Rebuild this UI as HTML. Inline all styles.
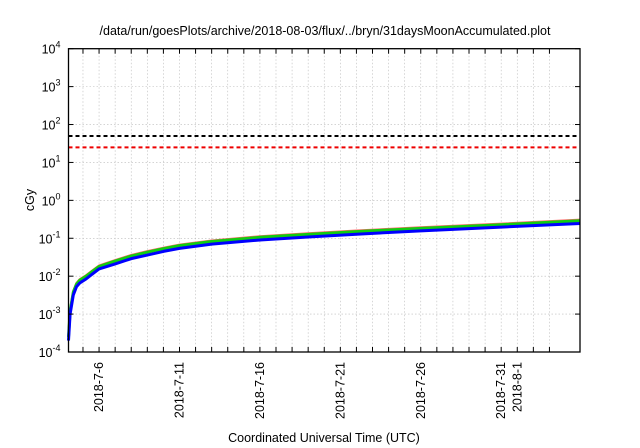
<!DOCTYPE html>
<html><head><meta charset="utf-8"><style>
body{margin:0;background:#fff}
svg{display:block;font-family:"Liberation Sans",sans-serif}
</style></head><body>
<svg id="chart" width="640" height="448">
<text x="325" y="35" font-size="12.5" text-anchor="middle">/data/run/goesPlots/archive/2018-08-03/flux/../bryn/31daysMoonAccumulated.plot</text>
<text x="324" y="442" font-size="12.5" text-anchor="middle">Coordinated Universal Time (UTC)</text>
<text x="0" y="0" font-size="12.5" text-anchor="middle" transform="translate(34,200) rotate(-90)">cGy</text>
<g id="grid"></g><g id="series"></g><g id="axes"></g>
</svg>
<script>
const dayOffsets=[-1.9,-1.8,-1.6,-1.4,-1.2,-0.8,-0.4,0,1,2,3,4,5,7,10,13,16,20,25,29.9];
const greenVals=[0.00025,0.0012,0.0038,0.0062,0.0078,0.010,0.0135,0.018,0.025,0.034,0.043,0.053,0.064,0.082,0.106,0.127,0.15,0.183,0.228,0.29];
const blueVals=[0.0002,0.001,0.0032,0.0053,0.0066,0.0085,0.0115,0.0155,0.021,0.029,0.036,0.045,0.054,0.07,0.09,0.108,0.128,0.157,0.197,0.245];
const redVals=greenVals;
const thresholds=[50,25];
const thresholdColors=["#000","#e00"];
const yTickExps=[-4,-3,-2,-1,0,1,2,3,4];
const xLabelDays=[0,5,10,15,20,25,26];
const xLabelTexts=["2018-7-6","2018-7-11","2018-7-16","2018-7-21","2018-7-26","2018-7-31","2018-8-1"];
const L=68.5,R=580,T=48.7,B=352,dMin=-1.9,dMax=29.9;
const X=d=>L+(d-dMin)/(dMax-dMin)*(R-L);
const Y=v=>T+(4-Math.log10(v))/8*(B-T);
const NS="http://www.w3.org/2000/svg";
function mk(tag,attrs,parent){const e=document.createElementNS(NS,tag);for(const k in attrs)e.setAttribute(k,attrs[k]);parent.appendChild(e);return e;}
const grid=document.getElementById('grid'),ser=document.getElementById('series'),ax=document.getElementById('axes');
for(let d=-1;d<=28;d++){const x=X(d);
 const g=mk('line',{x1:x,x2:x,y1:T,y2:B,stroke:'#bbb','stroke-width':0.6,'stroke-dasharray':'1.5,2'},grid);
 
 mk('line',{x1:x,x2:x,y1:B,y2:B-5,stroke:'#000','stroke-width':1},ax);
 mk('line',{x1:x,x2:x,y1:T,y2:T+5,stroke:'#000','stroke-width':1},ax);}
yTickExps.forEach(e=>{const y=Y(Math.pow(10,e));
 if(e>-4&&e<4){const g=mk('line',{x1:L,x2:R,y1:y,y2:y,stroke:'#bbb','stroke-width':0.6,'stroke-dasharray':'1.5,2'},grid);
 }
 mk('line',{x1:L,x2:L+5,y1:y,y2:y,stroke:'#000'},ax);mk('line',{x1:R,x2:R-5,y1:y,y2:y,stroke:'#000'},ax);
 const t=mk('text',{x:L-8,y:y+5,'font-size':12.5,'text-anchor':'end'},ax);
 
 t.appendChild(document.createTextNode('10'));const s=mk('tspan',{dy:-6,'font-size':9},t);s.textContent=String(e);});
xLabelDays.forEach((d,i)=>{const x=X(d)+4;
 const t=mk('text',{transform:`translate(${x},${B+10}) rotate(-90)`,'font-size':12.5,'text-anchor':'end'},ax);
 t.textContent=xLabelTexts[i];});
thresholds.forEach((v,i)=>{const l=mk('line',{x1:L,x2:R,y1:Y(v),y2:Y(v),stroke:thresholdColors[i],'stroke-width':2,'stroke-dasharray':'4,3'},ser);
 });
function line(vals,color,w,name,dy){const p=vals.map((v,i)=>`${X(dayOffsets[i])},${Y(v)+dy}`).join(' ');
 const e=mk('polyline',{points:p,fill:'none',stroke:color,'stroke-width':w,'stroke-linejoin':'round'},ser);
 }
line(redVals,'#f66',2.5,'series-red',-0.8);
line(greenVals,'#1c1',3,'series-green',0);
line(blueVals,'#00f',3,'series-blue',0);
const f=mk('rect',{x:L,y:T,width:R-L,height:B-T,fill:'none',stroke:'#000','stroke-width':1.3},ax);

</script>
</body></html>
